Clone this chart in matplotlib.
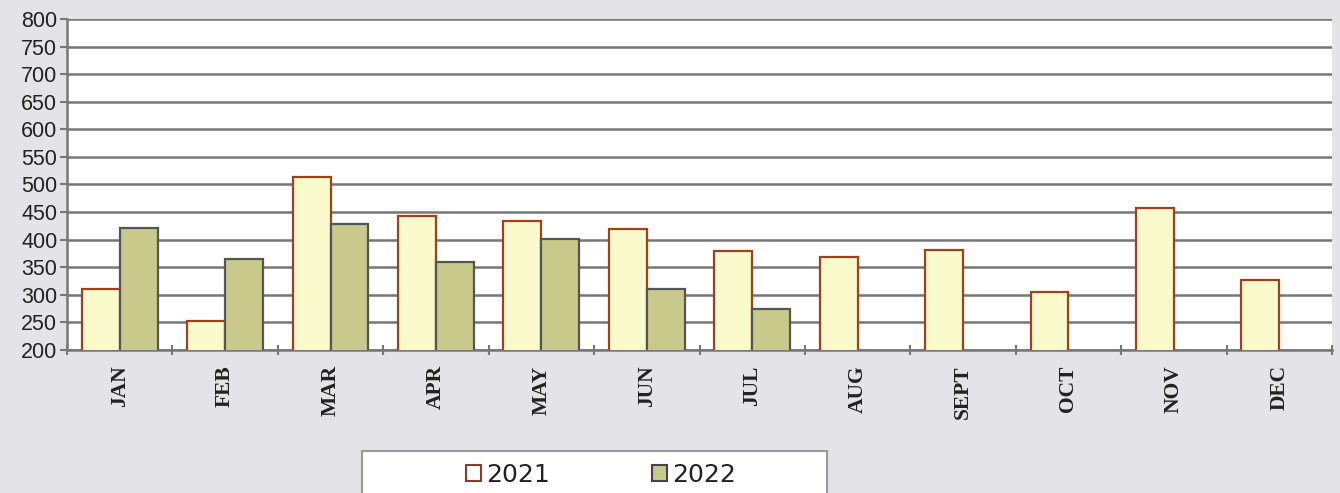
import numpy as np
import matplotlib.pyplot as plt
from matplotlib.patches import Rectangle

months = ["JAN", "FEB", "MAR", "APR", "MAY", "JUN", "JUL", "AUG", "SEPT", "OCT", "NOV", "DEC"]
v2021 = [310, 252, 513, 443, 433, 420, 380, 368, 381, 305, 457, 326]
v2022 = [422, 365, 428, 360, 402, 310, 275]

bg = "#e4e4e8"
W, H = 1340, 493
fig = plt.figure(figsize=(13.4, 4.93), dpi=100, facecolor=bg)
ax = fig.add_axes([67/W, 1 - 350/H, 1265/W, 331/H])
ax.set_facecolor("white")

x = np.arange(len(months))
w = 0.36
ax.bar(x - w/2, v2021, w, color="#fafacc", edgecolor="#a3401c", linewidth=1.6, zorder=3)
ax.bar(x[:len(v2022)] + w/2, v2022, w, color="#c9c98c", edgecolor="#555555", linewidth=1.6, zorder=3)

ax.set_ylim(200, 800)
ax.set_xlim(-0.5, 11.5)
ax.set_yticks(range(200, 801, 50))
ax.yaxis.grid(True, color="#777777", linewidth=1.8, zorder=0)
ax.set_xticks(x)
ax.set_xticklabels(months, rotation=90, fontfamily="Liberation Serif", fontsize=15.5,
                   fontweight="bold", color="#222222")
ax.tick_params(axis="x", length=0, pad=11)
ax.set_xticks(np.arange(-0.5, 12, 1), minor=True)
ax.tick_params(axis="x", which="minor", length=7, width=1.5, color="#777777", direction="inout")
ax.tick_params(axis="y", length=5, width=1.5, color="#777777", labelsize=15.5, labelcolor="#222222", pad=2)
for lbl in ax.get_yticklabels():
    lbl.set_fontfamily("Liberation Sans")

for s in ["top", "right"]:
    ax.spines[s].set_visible(False)
for s in ["left", "bottom"]:
    ax.spines[s].set_color("#777777")
    ax.spines[s].set_linewidth(1.8)

# legend box, cut off by the bottom of the figure
fig.patches.append(Rectangle((362/W, -0.05), 465/W, (H - 451)/H + 0.05, transform=fig.transFigure,
                             facecolor="white", edgecolor="#999999", linewidth=1.5, zorder=0))
h1 = Rectangle((0, 0), 1, 1, facecolor="white", edgecolor="#8a3a2a", linewidth=1.5)
h2 = Rectangle((0, 0), 1, 1, facecolor="#c9c98c", edgecolor="#444444", linewidth=1.5)
leg = fig.legend([h1, h2], ["2021", "2022"], ncol=2, loc="upper left",
                 bbox_to_anchor=(451/W, 1 - 448/H), frameon=False,
                 handlelength=0.6, handleheight=0.6, handletextpad=0.2, borderpad=0.1,
                 columnspacing=4.1, prop={"family": "Liberation Sans Narrow", "size": 18})
for t in leg.get_texts():
    t.set_color("#222222")

fig.savefig("out.png", dpi=100, facecolor=bg)
